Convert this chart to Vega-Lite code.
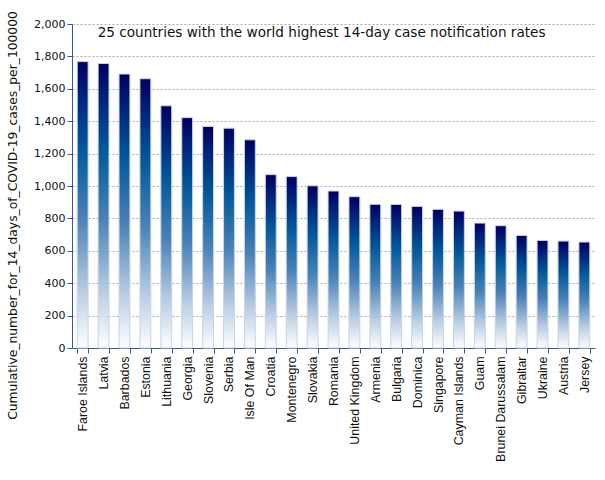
{
  "$schema": "https://vega.github.io/schema/vega-lite/v6.json",
  "width": 523,
  "height": 324,
  "autosize": {"type": "none"},
  "padding": {"left": 72, "top": 24, "right": 10, "bottom": 132},
  "background": "white",
  "data": {
    "values": [
      {"country": "Faroe Islands", "rate": 1768},
      {"country": "Latvia", "rate": 1756},
      {"country": "Barbados", "rate": 1691},
      {"country": "Estonia", "rate": 1662},
      {"country": "Lithuania", "rate": 1495},
      {"country": "Georgia", "rate": 1422},
      {"country": "Slovenia", "rate": 1368},
      {"country": "Serbia", "rate": 1357},
      {"country": "Isle Of Man", "rate": 1285},
      {"country": "Croatia", "rate": 1070},
      {"country": "Montenegro", "rate": 1058},
      {"country": "Slovakia", "rate": 1001},
      {"country": "Romania", "rate": 969},
      {"country": "United Kingdom", "rate": 934},
      {"country": "Armenia", "rate": 887},
      {"country": "Bulgaria", "rate": 886},
      {"country": "Dominica", "rate": 874},
      {"country": "Singapore", "rate": 856},
      {"country": "Cayman Islands", "rate": 845},
      {"country": "Guam", "rate": 771},
      {"country": "Brunei Darussalam", "rate": 755},
      {"country": "Gibraltar", "rate": 695},
      {"country": "Ukraine", "rate": 664},
      {"country": "Austria", "rate": 660},
      {"country": "Jersey", "rate": 654}
    ]
  },
  "encoding": {
    "x": {
      "field": "country",
      "type": "nominal",
      "sort": null,
      "scale": {"paddingInner": 0.48, "paddingOuter": 0.25},
      "axis": {
        "title": null,
        "labelAngle": -90,
        "labelFont": "Liberation Sans",
        "labelFontSize": 12.4,
        "labelColor": "#111111",
        "labelLimit": 200,
        "domainColor": "#3a55a0",
        "tickColor": "#3a55a0",
        "tickSize": 5,
        "tickBand": "extent",
        "labelPadding": 3
      }
    },
    "y": {
      "field": "rate",
      "type": "quantitative",
      "scale": {"domain": [0, 2000]},
      "axis": {
        "title": "Cumulative_number_for_14_days_of_COVID-19_cases_per_100000",
        "titleFont": "DejaVu Sans",
        "titleFontSize": 12.3,
        "titleFontWeight": "normal",
        "titleColor": "#111111",
        "titlePadding": 14,
        "titleY": 191,
        "values": [0, 200, 400, 600, 800, 1000, 1200, 1400, 1600, 1800, 2000],
        "labelOverlap": false,
        "format": ",d",
        "labelFont": "DejaVu Sans",
        "labelFontSize": 11,
        "labelColor": "#111111",
        "domainColor": "#3a55a0",
        "tickColor": "#3a55a0",
        "tickSize": 5,
        "grid": true,
        "gridColor": "#aaaaaa",
        "gridDash": [2, 2],
        "gridWidth": 1
      }
    }
  },
  "layer": [
    {
      "mark": {
        "type": "bar",
        "stroke": "#c8d4e4",
        "strokeWidth": 1,
        "color": {
          "gradient": "linear",
          "x1": 0, "y1": 0, "x2": 0, "y2": 1,
          "stops": [
            {"offset": 0, "color": "#00005e"},
            {"offset": 0.06, "color": "#001070"},
            {"offset": 0.3, "color": "#00589a"},
            {"offset": 0.55, "color": "#4a82b8"},
            {"offset": 0.8, "color": "#b8cce2"},
            {"offset": 1, "color": "#ffffff"}
          ]
        }
      }
    },
    {
      "transform": [{"filter": "datum.country === 'Slovakia'"}],
      "mark": {
        "type": "text",
        "font": "DejaVu Sans",
        "fontSize": 13.6,
        "color": "#111111",
        "align": "center",
        "baseline": "middle",
        "dx": 9
      },
      "encoding": {
        "y": {"datum": 1945},
        "text": {"value": "25 countries with the world highest 14-day case notification rates"}
      }
    }
  ],
  "config": {"view": {"stroke": null}}
}
